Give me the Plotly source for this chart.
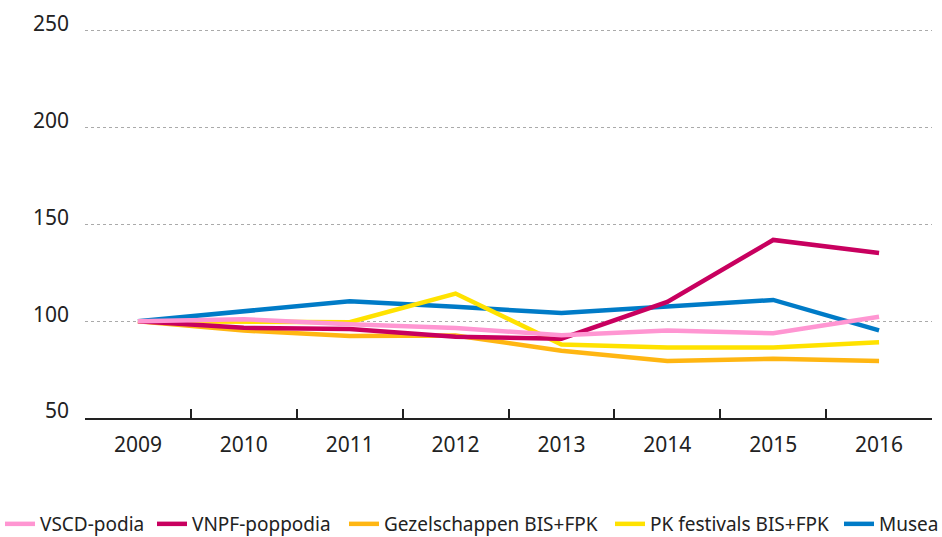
import plotly.graph_objects as go

years = ["2009", "2010", "2011", "2012", "2013", "2014", "2015", "2016"]
vscd = [100, 101, 98.5, 96.5, 92.8, 95.2, 93.8, 102.3]
vnpf = [100, 96.6, 96.0, 92.0, 91.0, 110.0, 142.0, 135.3]
gezel = [100, 95.2, 92.4, 92.6, 84.8, 79.5, 80.6, 79.5]
pk = [100, 100, 99.5, 114.3, 88.0, 86.4, 86.4, 89.2]
musea = [100, 105.2, 110.3, 107.5, 104.2, 107.6, 111.0, 95.3]
ytick_vals = [50, 100, 150, 200, 250]

names = ["VSCD-podia", "VNPF-poppodia", "Gezelschappen BIS+FPK", "PK festivals BIS+FPK", "Musea"]
colors = ["#ff96d2", "#c8005f", "#ffb612", "#ffe200", "#007bc7"]
series = [vscd, vnpf, gezel, pk, musea]
draw_order = [4, 3, 2, 1, 0]
legend_ids = ["legend", "legend2", "legend3", "legend4", "legend5"]
# left text position (px) of each legend entry
legend_text_x = [41, 193, 385, 651, 880]

fig = go.Figure()
for j in draw_order:
    fig.add_trace(go.Scatter(
        x=years, y=series[j], name=names[j], mode="lines",
        line=dict(color=colors[j], width=4.5),
        legend=legend_ids[j],
    ))

W, H = 942, 537
layout_legends = {}
for j, lid in enumerate(legend_ids):
    layout_legends[lid] = dict(
        orientation="h", xref="container", yref="container",
        x=(legend_text_x[j] - 41) / W, xanchor="left",
        y=(H - 524) / H, yanchor="middle",
        font=dict(size=19, color="#222222", family="Noto Sans"), itemwidth=30,
        bgcolor="rgba(0,0,0,0)",
    )

fig.update_layout(
    width=W, height=H,
    margin=dict(l=85, r=10, t=29, b=119),
    plot_bgcolor="white", paper_bgcolor="white",
    font=dict(family="Noto Sans", size=21, color="#222222"),
    showlegend=True,
    **layout_legends,
)
fig.update_xaxes(
    type="category", range=[-0.5, 7.5], automargin=False,
    showline=True, linecolor="#222222", linewidth=2,
    ticks="inside", tickson="boundaries", ticklen=9, tickwidth=2, tickcolor="#222222",
    showgrid=False, ticklabelstandoff=7,
)
fig.update_yaxes(
    range=[50, 251], tickvals=ytick_vals, automargin=False,
    showgrid=True, gridcolor="#aaaaaa", griddash="dot", gridwidth=1,
    zeroline=False, showline=False, ticks="", ticklabelstandoff=15,
    ticklabelshift=-7,
)
fig.write_html("out.html", config={"displayModeBar": False},
               post_script="document.body.style.margin='0';")
